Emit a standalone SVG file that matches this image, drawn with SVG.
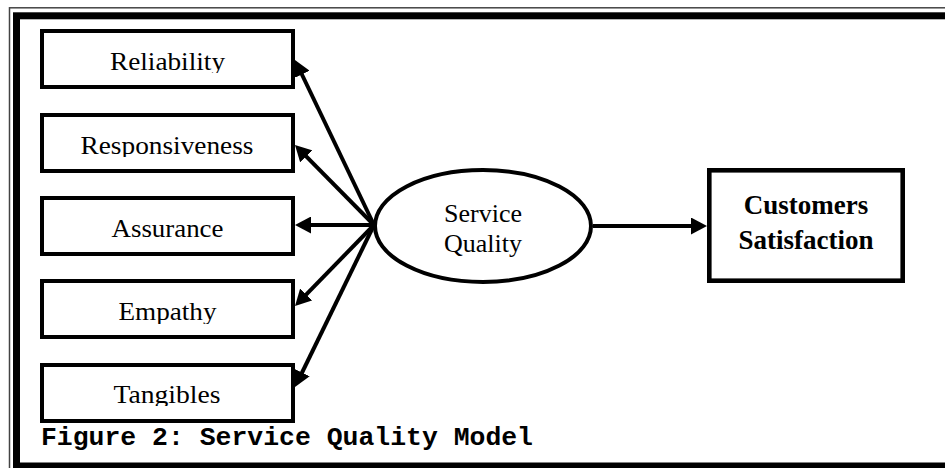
<svg xmlns="http://www.w3.org/2000/svg" width="945" height="468" viewBox="0 0 945 468">
  <style>
    .box { fill: #fff; stroke: #000; stroke-width: 4; }
    .lbl { font-family: "Liberation Serif", "Times New Roman", serif; font-size: 26px; fill: #000; text-anchor: middle; }
    .big { font-family: "Liberation Serif", "Times New Roman", serif; font-size: 27px; font-weight: bold; fill: #000; text-anchor: middle; }
    .edge { stroke: #000; stroke-width: 4; fill: none; marker-end: url(#head); }
    .cap { font-family: "Liberation Mono", "Courier New", monospace; font-size: 26px; font-weight: bold; fill: #000; }
  </style>
  <defs>
    <marker id="head" viewBox="0 0 16 17" refX="6" refY="8.5" markerWidth="16" markerHeight="17" markerUnits="userSpaceOnUse" orient="auto">
      <path d="M0,0 L16,8.5 L0,17 z" fill="#000"/>
    </marker>
    <!-- label text is cropped just under the baseline, as in a fixed-height text frame -->
    <clipPath id="labelClip" clipPathUnits="userSpaceOnUse">
      <rect x="44" y="33" width="247" height="40"/>
      <rect x="44" y="117" width="247" height="40"/>
      <rect x="44" y="200" width="247" height="40"/>
      <rect x="44" y="283" width="247" height="41"/>
      <rect x="44" y="367" width="247" height="39"/>
    </clipPath>
  </defs>

  <rect width="945" height="468" fill="#fff"/>

  <!-- double page frame -->
  <g id="frame" fill="none">
    <rect x="9.5" y="7.8" width="1000" height="1000" stroke="#444" stroke-width="1.5"/>
    <rect x="16.5" y="15.8" width="1000" height="450.2" stroke="#000" stroke-width="7"/>
  </g>

  <g id="connectors">
    <line class="edge" x1="374" y1="225" x2="299.3" y2="69"/>
    <line class="edge" x1="374" y1="225" x2="302" y2="152.1"/>
    <line class="edge" x1="374" y1="225" x2="305" y2="225"/>
    <line class="edge" x1="374" y1="225" x2="302" y2="298.8"/>
    <line class="edge" x1="374" y1="225" x2="299.4" y2="378"/>
    <line class="edge" x1="593" y1="226" x2="697" y2="226"/>
  </g>

  <g id="reliability">
    <rect class="box" x="42" y="31" width="251" height="56"/>
    <text class="lbl" x="167.5" y="70" textLength="115" lengthAdjust="spacingAndGlyphs" clip-path="url(#labelClip)">Reliability</text>
  </g>
  <g id="responsiveness">
    <rect class="box" x="42" y="115" width="251" height="56"/>
    <text class="lbl" x="167" y="154" textLength="173" lengthAdjust="spacingAndGlyphs" clip-path="url(#labelClip)">Responsiveness</text>
  </g>
  <g id="assurance">
    <rect class="box" x="42" y="198" width="251" height="56"/>
    <text class="lbl" x="167.5" y="237" textLength="112" lengthAdjust="spacingAndGlyphs" clip-path="url(#labelClip)">Assurance</text>
  </g>
  <g id="empathy">
    <rect class="box" x="42" y="281" width="251" height="56"/>
    <text class="lbl" x="167.5" y="320" textLength="98" lengthAdjust="spacingAndGlyphs" clip-path="url(#labelClip)">Empathy</text>
  </g>
  <g id="tangibles">
    <rect class="box" x="42" y="365" width="251" height="56"/>
    <text class="lbl" x="167" y="403" textLength="107" lengthAdjust="spacingAndGlyphs" clip-path="url(#labelClip)">Tangibles</text>
  </g>

  <g id="service-quality">
    <ellipse cx="483" cy="226" rx="108" ry="56" fill="#fff" stroke="#000" stroke-width="4"/>
    <text class="lbl" x="483" y="222" font-size="25">Service</text>
    <text class="lbl" x="483" y="252" font-size="25">Quality</text>
  </g>

  <g id="customers-satisfaction">
    <rect x="709.3" y="170.3" width="193.4" height="110.4" fill="#fff" stroke="#000" stroke-width="4.6"/>
    <text class="big" x="806" y="214">Customers</text>
    <text class="big" x="806" y="249">Satisfaction</text>
  </g>

  <text class="cap" x="41" y="445" textLength="492" lengthAdjust="spacingAndGlyphs">Figure 2: Service Quality Model</text>
</svg>
